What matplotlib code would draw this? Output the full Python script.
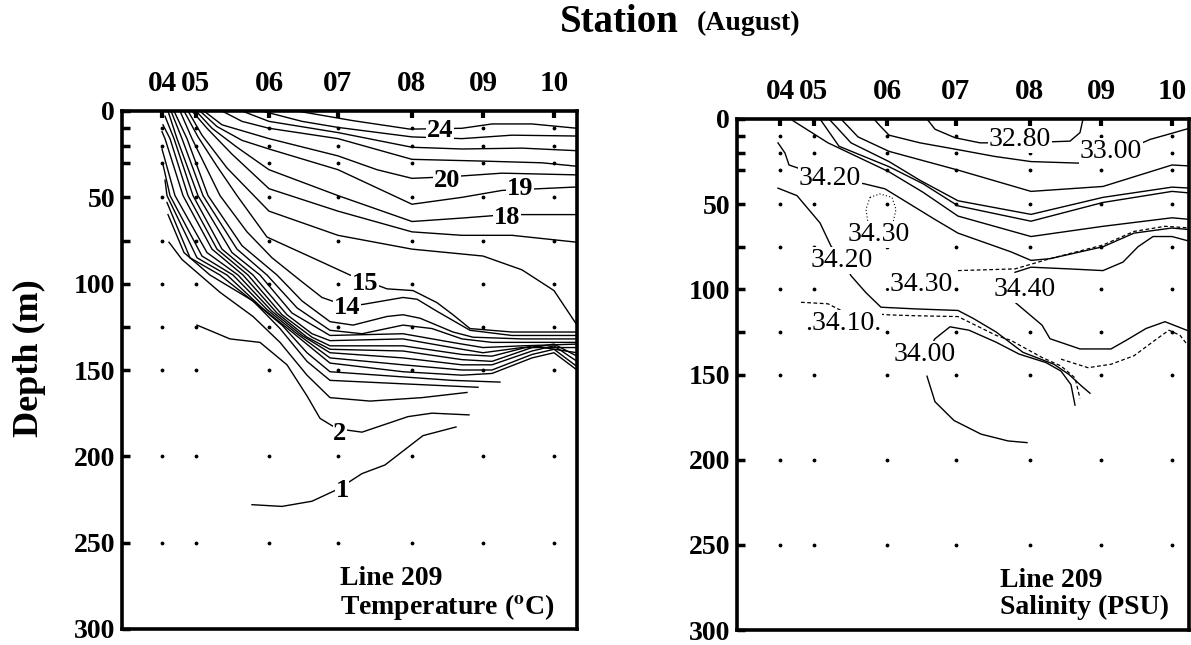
import matplotlib.pyplot as plt

plt.rcParams['font.family'] = ['Liberation Serif', 'DejaVu Serif']
plt.rcParams['mathtext.fontset'] = 'stix'

# stations along Line 209 and their spacing (distance units, 04 = 0)
stations = ['04', '05', '06', '07', '08', '09', '10']
station_dist = [0, 34, 107, 176, 250, 321, 392]
sample_depths = [0, 10, 20, 30, 50, 75, 100, 125, 150, 200, 250]
depth_ticks = [0, 10, 20, 30, 50, 75, 100, 125, 150, 200, 250, 300]
depth_labels = [0, 50, 100, 150, 200, 250, 300]

# ---- temperature isotherms, (distance, depth m)
t24 = [(135, 0), (190, 5.5), (248, 10.5), (300, 10), (330, 7.5), (370, 7.5), (415, 10)]
t23 = [(100, 0), (140, 6), (176, 9.5), (250, 15), (300, 16), (350, 14), (415, 14.5)]
t22 = [(80, 0), (107, 6), (176, 12.5), (250, 21), (300, 22), (360, 21.5), (415, 23)]
t21 = [(60, 0), (80, 6), (107, 10), (176, 16), (250, 28), (320, 29), (380, 30), (415, 32)]
t20 = [(42, 0), (60, 8), (107, 16), (176, 26), (215, 34), (250, 39), (290, 38), (340, 36), (415, 37)]
t19 = [(38, 0), (55, 9), (80, 17), (107, 22), (176, 34), (250, 54), (300, 50), (340, 46), (415, 44)]
t18 = [(34, 0), (50, 10), (75, 21), (107, 34), (176, 49), (250, 64), (300, 62), (345, 60), (415, 60)]
t17 = [(30, 0), (45, 10), (70, 25), (107, 45), (176, 58), (250, 70), (300, 72), (350, 72), (415, 76)]
t16 = [(26, 0), (40, 14), (65, 33), (107, 58), (176, 72), (250, 80), (321, 84), (360, 92), (392, 104),
       (415, 124)]
t15 = [(22, 0), (36, 15), (55, 32), (75, 49), (105, 73), (158, 87), (188, 95), (225, 103), (251, 104),
       (275, 111), (291, 118), (308, 126), (350, 128), (415, 128)]
t14 = [(18, 0), (30, 16), (58, 49), (85, 70), (110, 85), (138, 98), (160, 108), (185, 113), (201, 112),
       (241, 108), (255, 109), (275, 116), (308, 127), (350, 130), (415, 130)]
t13 = [(12, 0), (25, 16), (46, 49), (80, 78), (115, 95), (140, 110), (168, 122), (191, 124), (225, 119),
       (241, 118), (258, 120), (291, 128), (311, 131), (360, 132), (415, 132)]
t12 = [(9, 0), (20, 16), (41, 49), (75, 80), (105, 95), (135, 114), (168, 127), (200, 129), (241, 124),
       (270, 126), (300, 132), (330, 134), (415, 134)]
t11 = [(6, 0), (15, 16), (36, 49), (70, 82), (98, 95), (130, 117), (168, 130), (241, 129), (290, 134),
       (321, 137), (360, 136), (415, 135)]
t10 = [(3, 3), (12, 16), (31, 49), (60, 80), (91, 95), (125, 118), (150, 129), (168, 133), (241, 132),
       (300, 138), (321, 140), (360, 137), (415, 137)]
t9 = [(1, 8), (8, 16), (26, 49), (55, 80), (86, 95), (120, 118), (150, 131), (168, 136), (241, 136),
      (300, 141), (330, 142), (370, 136), (415, 140)]
t8 = [(0, 12), (3, 16), (21, 49), (50, 80), (81, 95), (115, 117), (145, 131), (168, 138), (241, 139),
      (300, 144), (330, 145), (370, 137), (392, 135), (415, 142)]
t7 = [(0, 22), (13, 49), (45, 82), (76, 95), (110, 116), (140, 130), (168, 140), (241, 143), (300, 147),
      (330, 147), (370, 139), (392, 136), (415, 145)]
t6 = [(1, 31), (8, 49), (40, 84), (71, 95), (105, 115), (135, 129), (168, 143), (241, 147), (300, 150),
      (330, 150), (370, 141), (392, 138), (415, 148)]
t5 = [(3, 40), (5, 49), (35, 85), (65, 95), (100, 114), (130, 128), (168, 146), (241, 151), (300, 153),
      (330, 152), (370, 143), (392, 140), (415, 150)]
t4 = [(5, 53), (28, 85), (58, 95), (95, 112), (120, 124), (145, 140), (168, 151), (241, 154), (290, 156),
      (338, 157)]
t4b = [(6, 60), (22, 82), (48, 95), (91, 110), (118, 126), (145, 145), (168, 156), (241, 158), (316, 160)]
t3 = [(7, 76), (20, 86), (38, 95), (58, 105), (91, 119), (118, 134), (145, 153), (168, 166), (208, 168),
      (260, 166), (305, 163)]
t2 = [(35, 124), (68, 132), (98, 134), (125, 147), (145, 165), (158, 178), (175, 184), (200, 186),
      (246, 177), (270, 175), (307, 176)]
t1 = [(90, 228), (120, 229), (150, 226), (176, 219), (200, 210), (223, 205), (261, 188), (294, 183)]

temp_lines = [t24, t23, t22, t21, t20, t19, t18, t17, t16, t15, t14, t13, t12, t11, t10,
              t9, t8, t7, t6, t5, t4, t4b, t3, t2, t1]
temp_labels = ['24', '20', '19', '18', '15', '14', '2', '1']
temp_label_x = [278, 285, 358, 345, 203, 185, 178, 180]
temp_label_d = [11.5, 40, 45, 61.5, 100, 114, 187, 220]

# ---- salinity isohalines
s3280 = [(147, 0), (155, 6), (175, 11), (200, 14), (240, 14), (290, 13), (300, 8), (303, 0)]
s3300 = [(94, 0), (100, 4), (109, 9.5), (140, 14), (178, 18), (215, 22), (251, 25), (304, 26),
         (339, 20), (370, 12), (390, 8.7), (412, 5)]
s_a = [(61, 0), (78, 10.5), (109, 19), (178, 30), (251, 42.5), (323, 39.6), (392, 27), (411, 27.6)]
s_b = [(49, 0), (71, 14), (109, 25), (140, 36), (178, 48), (251, 56), (323, 46), (392, 40), (411, 40.6)]
s_c = [(40, 0), (59, 16), (109, 28), (143, 38), (178, 51), (251, 60), (323, 49), (392, 42.5), (411, 43.5)]
s_d = [(13, 1), (48, 14), (109, 31), (143, 43), (178, 57), (251, 69), (323, 63), (392, 58), (411, 59)]
s3420a = [(-2, 14), (5, 20), (9, 27), (49, 35), (84, 38), (105, 41), (155, 59), (178, 67), (231, 78),
          (251, 83), (270, 82), (323, 75), (354, 67), (392, 64), (411, 65)]
s3420b = [(-2, 40.6), (17, 45), (40, 61), (51, 74.6), (63, 83), (71, 92), (86, 102), (101, 110.5),
          (136, 111.5), (178, 112.4), (193, 117), (216, 125), (243, 137), (274, 144), (289, 150),
          (302, 157), (310, 161)]
s3400a = [(148, 136), (155, 129), (170, 122), (189, 124), (216, 131), (239, 138), (266, 143), (281, 148),
          (291, 156), (295, 168)]
s3400b = [(147, 151), (155, 166), (174, 177), (201, 185), (228, 189), (247, 190)]
s3440 = [(235, 107.6), (262, 121), (270, 129), (300, 135), (331, 135), (346, 130), (366, 123),
         (385, 119), (411, 125)]
s3440u = [(235, 90), (251, 87), (289, 88), (323, 89), (343, 84), (358, 75), (373, 69), (392, 69),
          (411, 72)]
sal_solid = [s3280, s3300, s_a, s_b, s_c, s_d, s3420a, s3420b, s3400a, s3400b, s3440, s3440u]

d3410 = [(21, 107.6), (48, 108.5), (63, 113), (109, 115), (135, 115.5), (178, 116), (216, 127),
         (231, 130), (262, 140), (281, 145), (295, 152), (300, 164)]
d3430 = [(178, 89), (235, 88), (270, 82), (323, 74), (354, 66), (385, 63), (411, 64)]
d3440 = [(281, 141), (308, 146), (331, 144), (354, 139), (377, 129), (389, 124), (400, 127), (408, 133)]
sal_dashed = [d3410, d3430, d3440]
loop3430 = [(90, 46), (100, 44), (112, 46), (116, 53), (113, 61), (88, 61), (86, 53), (90, 46)]

sal_labels = ['32.80', '33.00', '34.20', '34.30', '34.20', '.34.30', '34.40', '.34.10.', '34.00']
sal_label_x = [240, 331, 50, 99, 62, 138, 245, 63, 145]
sal_label_d = [12, 19, 34.8, 68, 83, 97, 100, 120, 138]

fig = plt.figure(figsize=(11.91, 6.45), dpi=100)
ax1 = fig.add_axes([122 / 1191, 16 / 645, 455 / 1191, 518 / 645])
ax2 = fig.add_axes([737 / 1191, 15 / 645, 452 / 1191, 511 / 645])


def setup(ax, xmin, xmax):
    ax.set_xlim(xmin, xmax)
    ax.set_ylim(300, 0)
    for s in ax.spines.values():
        s.set_linewidth(2.6)
    ax.set_yticks(depth_ticks)
    ax.set_yticklabels([str(d) if d in depth_labels else '' for d in depth_ticks],
                       fontsize=20, fontweight='bold')
    ax.tick_params(axis='y', direction='in', length=6, width=2.5, pad=5)
    ax.set_xticks(station_dist)
    ax.set_xticklabels(stations, fontsize=21, fontweight='bold')
    ax.xaxis.tick_top()
    ax.tick_params(axis='x', direction='in', length=5, width=3, pad=10)
    for x in station_dist:
        ax.plot([x] * (len(sample_depths) - 1), sample_depths[1:], 'k.', ms=3.5)


setup(ax1, -40, 415)
setup(ax2, -43, 409)

for ln in temp_lines:
    xs, ds = zip(*ln)
    ax1.plot(xs, ds, color='k', lw=1.0)
for lab, x, d in zip(temp_labels, temp_label_x, temp_label_d):
    ax1.text(x, d, lab, fontsize=19, fontweight='bold', ha='center', va='center',
             bbox=dict(fc='white', ec='none', pad=0.5))
ax1.text(178, 271, 'Line 209', fontsize=20, fontweight='bold', va='center')
ax1.text(178, 287, 'Temperature ($^{\\mathbf{o}}$C)', fontsize=20, fontweight='bold', va='center')

for ln in sal_solid:
    xs, ds = zip(*ln)
    ax2.plot(xs, ds, color='k', lw=1.0)
for ln in sal_dashed:
    xs, ds = zip(*ln)
    ax2.plot(xs, ds, color='k', lw=0.9, ls=(0, (3, 2)))
xs, ds = zip(*loop3430)
ax2.plot(xs, ds, color='k', lw=0.8, ls=(0, (1, 2)))
for lab, x, d in zip(sal_labels, sal_label_x, sal_label_d):
    ax2.text(x, d, lab, fontsize=20, ha='center', va='center',
             bbox=dict(fc='white', ec='none', pad=0.5))
ax2.text(220, 271, 'Line 209', fontsize=20, fontweight='bold', va='center')
ax2.text(220, 287, 'Salinity (PSU)', fontsize=20, fontweight='bold', va='center')

fig.text(29 / 1191, 1 - 358 / 645, 'Depth (m)', fontsize=26, fontweight='bold',
         rotation=90, ha='center', va='center')

fig.text(560 / 1191, 1 - 22 / 645, 'Station', fontsize=28, fontweight='bold', ha='left', va='center')
fig.text(697 / 1191, 1 - 23 / 645, '(August)', fontsize=20, fontweight='bold', ha='left', va='center')

fig.savefig('out.png', dpi=100)
